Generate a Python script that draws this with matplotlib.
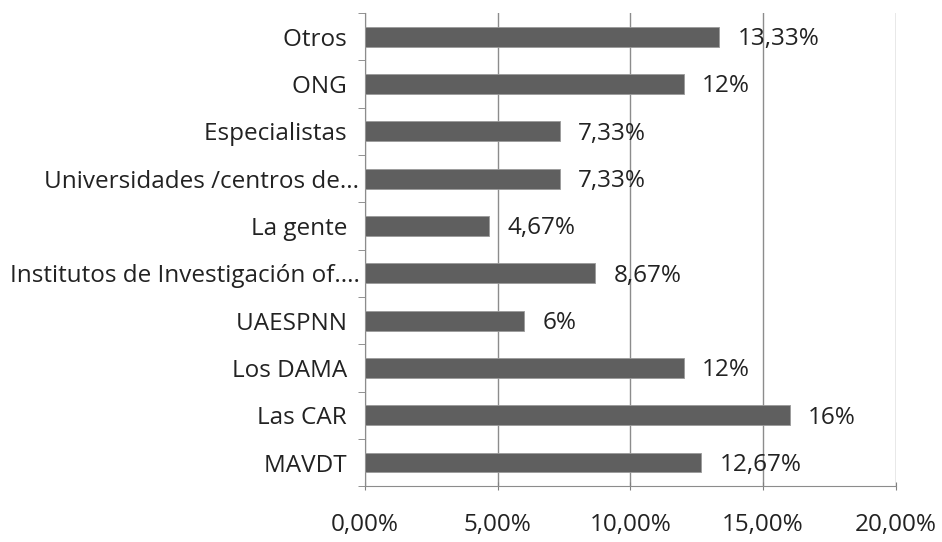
import matplotlib.pyplot as plt
import numpy as np

categorias = ['MAVDT  ', 'Las CAR  ', 'Los DAMA  ', 'UAESPNN  ', 'Institutos de Investigación of....',
              'La gente  ', 'Universidades /centros de...', 'Especialistas  ', 'ONG  ', 'Otros  ']
valores = [12.67, 16, 12, 6, 8.67, 4.67, 7.33, 7.33, 12, 13.33]
etiquetas = ['12,67%', '16%', '12%', '6%', '8,67%', '4,67%', '7,33%', '7,33%', '12%', '13,33%']
xticks = [0, 5, 10, 15, 20]
xticklabels = ['0,00%', '5,00%', '10,00%', '15,00%', '20,00%']

plt.rcParams['font.family'] = ['Open Sans', 'DejaVu Sans']

fig = plt.figure(figsize=(9.42, 5.42), dpi=100)
ax = fig.add_axes([0.3875, 0.103, 0.5635, 0.873])

y = np.arange(len(categorias))
ax.barh(y, valores, height=0.42, color='#5f5f5f', edgecolor='#9a9a9a', linewidth=0.6, zorder=3)

for yi, v, t in zip(y, valores, etiquetas):
    ax.text(v + 0.7, yi - 0.05, t, va='center', ha='left', fontsize=17.5, color='#222222')

ax.set_xlim(0, 20)
ax.set_ylim(-0.5, len(categorias) - 0.5)
ax.set_xticks(xticks)
ax.set_xticklabels(xticklabels, fontsize=17.5, color='#222222')
ax.set_yticks(y)
ax.set_yticklabels(categorias, fontsize=17.5, color='#222222')
ax.set_yticks(np.arange(len(categorias) + 1) - 0.5, minor=True)

ax.tick_params(axis='y', which='major', length=0, pad=4)
ax.tick_params(axis='y', which='minor', length=5, color='#808080', direction='out')
ax.tick_params(axis='x', length=6, color='#808080', direction='inout', pad=16)

ax.grid(axis='x', color='#8c8c8c', linewidth=1, zorder=0)
for s in ['top', 'right']:
    ax.spines[s].set_visible(False)
ax.spines['left'].set_color('#8c8c8c')
ax.spines['bottom'].set_color('#8c8c8c')

fig.savefig('out.png', dpi=100)
